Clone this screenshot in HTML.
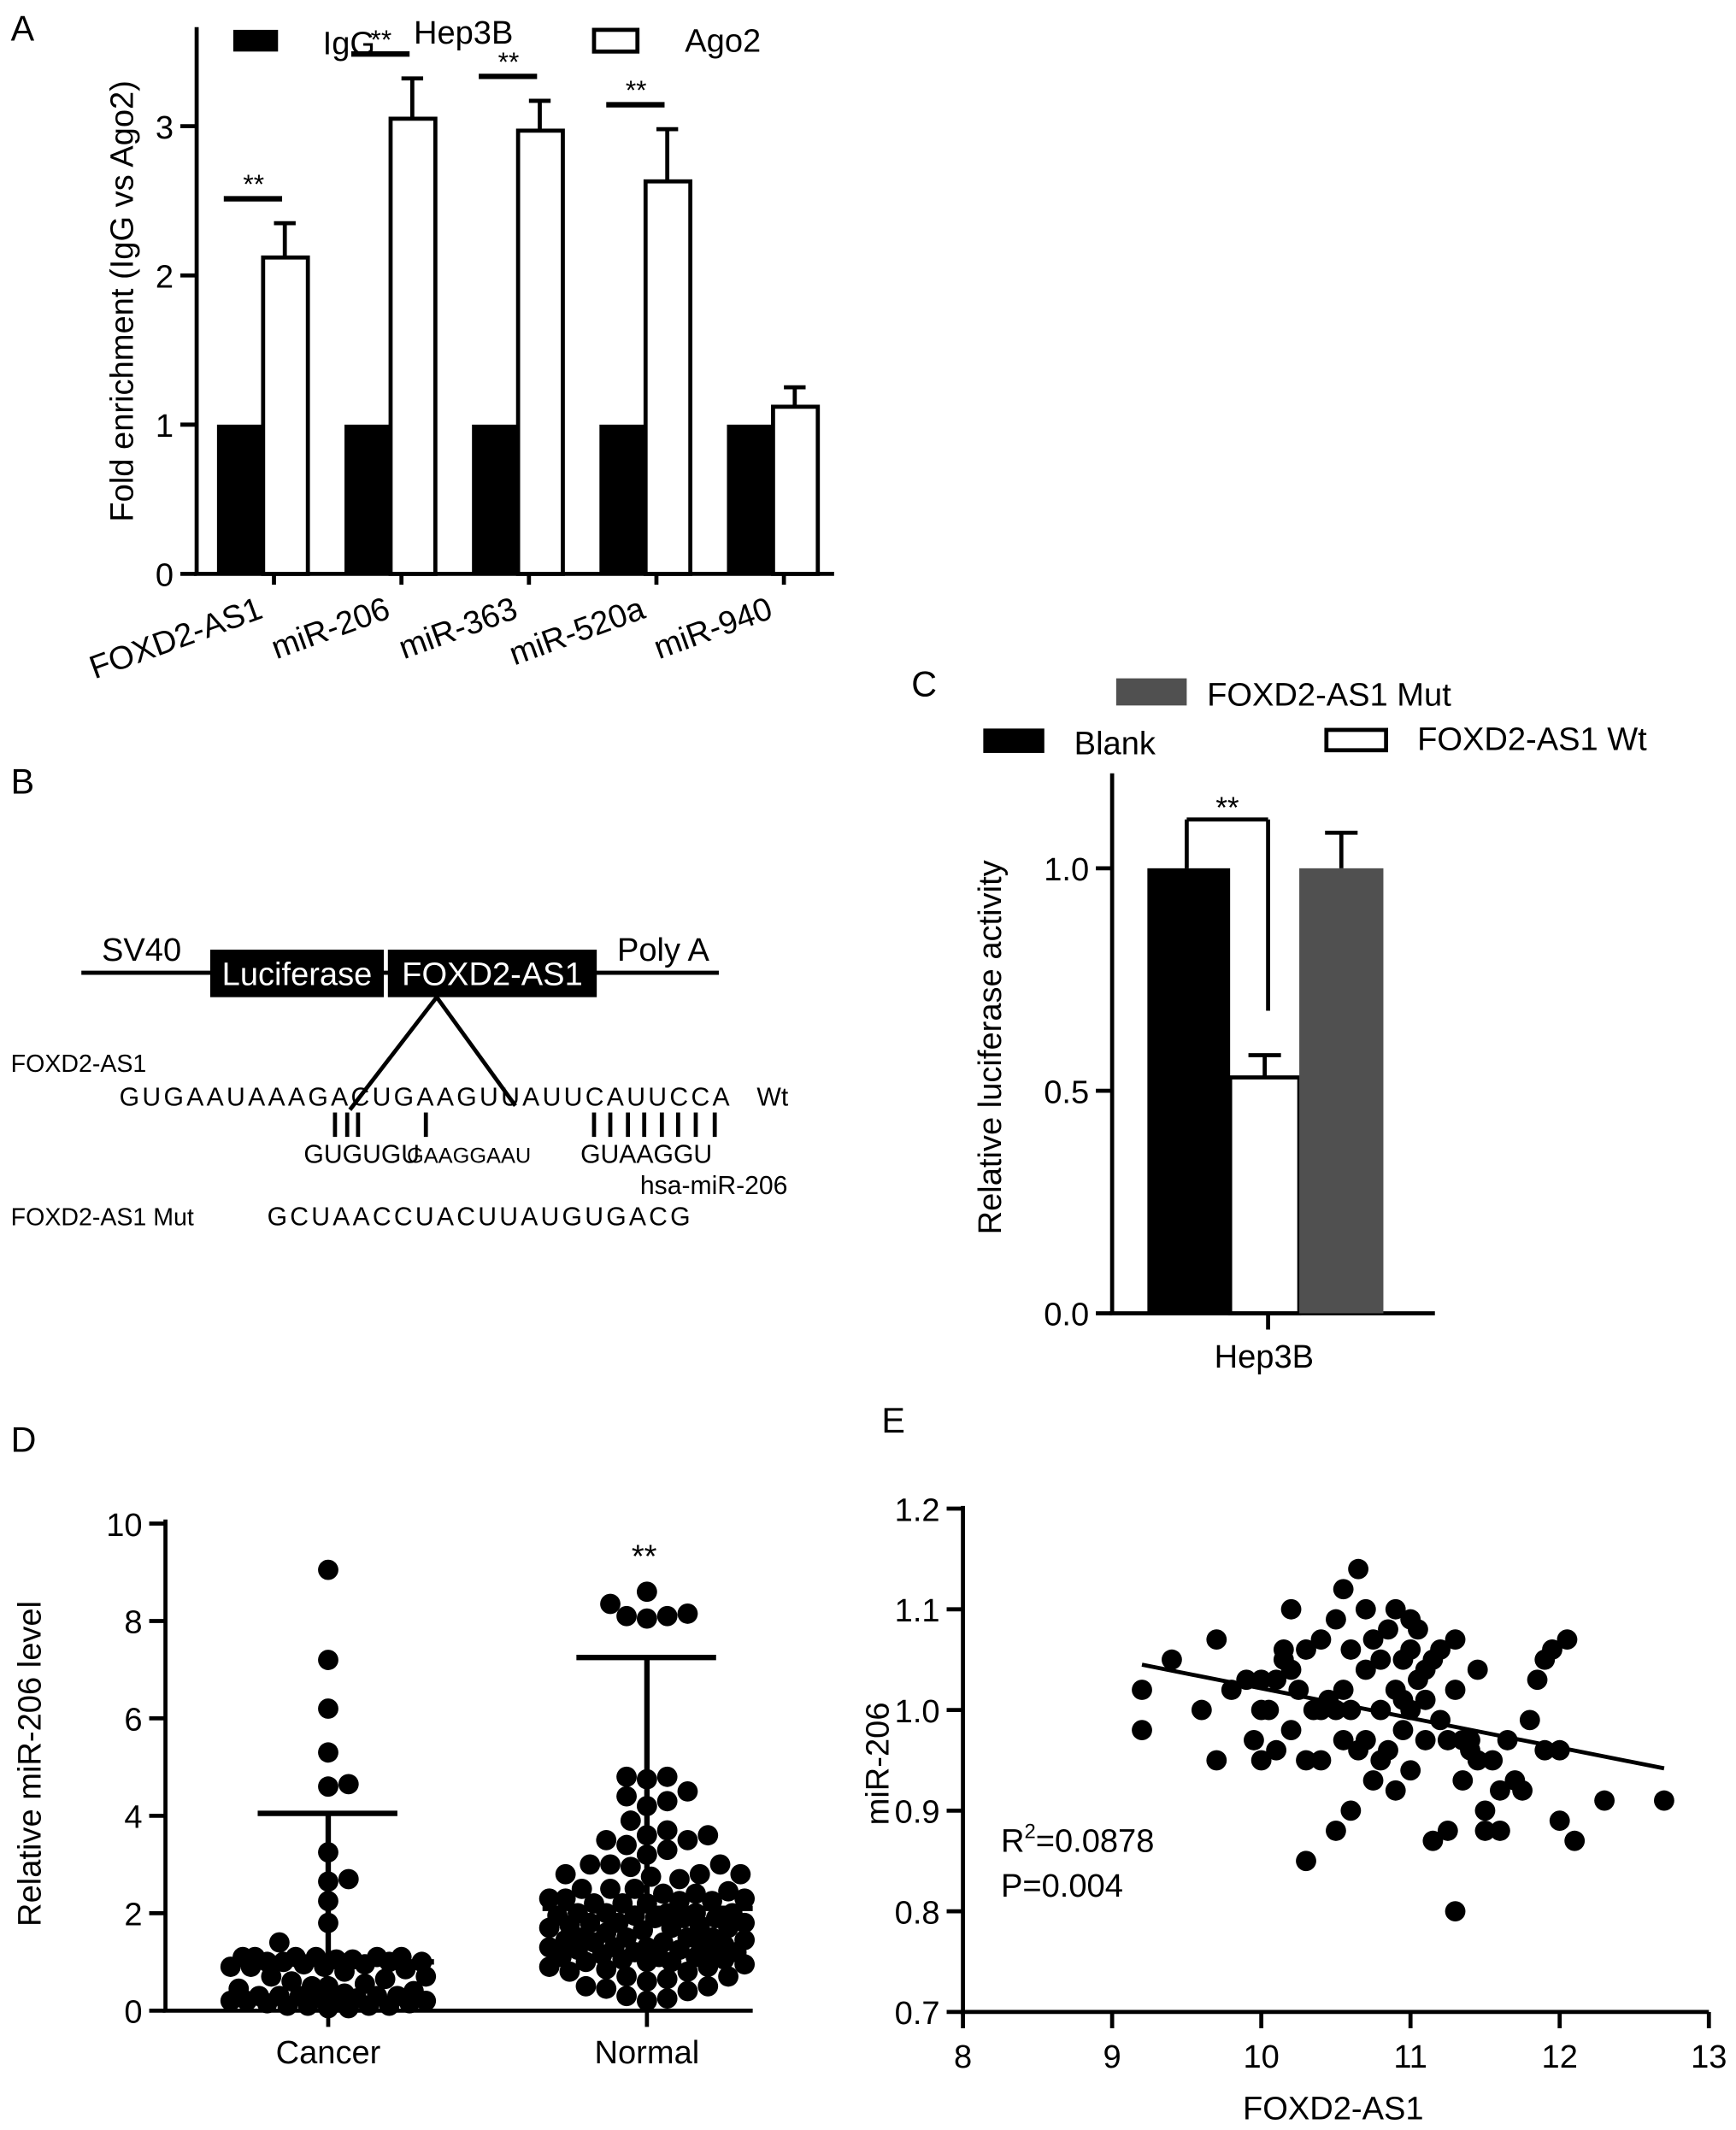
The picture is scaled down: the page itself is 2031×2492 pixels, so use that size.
<!DOCTYPE html>
<html><head><meta charset="utf-8"><style>
html,body{margin:0;padding:0;background:#fff}
svg{display:block;font-family:"Liberation Sans",Arial,sans-serif}
</style></head><body>
<svg id="fig" width="2031" height="2492" viewBox="0 0 1280 1570" preserveAspectRatio="none" xmlns="http://www.w3.org/2000/svg">
<rect width="1280" height="1570" fill="#fff"/>
<g id="A"></g>
<g id="B"></g>
<g id="C"></g>
<g id="D"></g>
<g id="E"></g>
</svg>
<script>
// ---- Panel A data
const aCategories = ["FOXD2-AS1","miR-206","miR-363","miR-520a","miR-940"];
const aIgG = [1,1,1,1,1];
const aAgo2 = [2.12,3.05,2.97,2.63,1.12];
const aAgo2Err = [0.23,0.27,0.2,0.35,0.13];
const aSig = ["**","**","**","**",""];
const aTicks = [0,1,2,3];
// ---- Panel C data
const cSeries = ["Blank","FOXD2-AS1 Wt","FOXD2-AS1 Mut"];
const cValues = [1.0,0.53,1.0];
const cErr = [0,0.05,0.08];
const cTicks = [0.0,0.5,1.0];
// ---- Panel D data
const dCategories = ["Cancer","Normal"];
const dCancer = [9.05,7.2,6.2,5.3,4.65,4.6,3.25,2.7,2.65,2.25,1.8,1.4,1.1,1.1,1.1,1.1,1.1,1.1,1.05,1.05,1.0,1.0,1.0,1.0,0.95,0.95,0.9,0.9,0.9,0.85,0.8,0.7,0.7,0.65,0.6,0.55,0.5,0.5,0.45,0.4,0.35,0.3,0.3,0.3,0.3,0.3,0.25,0.25,0.2,0.2,0.2,0.2,0.15,0.15,0.1,0.1,0.1,0.1,0.05,0.05];
const dNormal = [8.6,8.35,8.1,8.05,8.1,8.15,4.8,4.8,4.75,4.5,4.4,4.3,4.2,3.9,3.7,3.6,3.6,3.5,3.5,3.4,3.3,3.2,3.0,3.0,3.0,2.95,2.8,2.8,2.8,2.75,2.7,2.5,2.5,2.5,2.45,2.4,2.4,2.3,2.3,2.3,2.25,2.25,2.2,2.2,2.2,2.0,2.0,2.0,2.0,2.0,1.95,1.95,1.9,1.9,1.9,1.8,1.8,1.8,1.75,1.75,1.7,1.7,1.7,1.65,1.6,1.5,1.5,1.5,1.5,1.45,1.45,1.4,1.4,1.4,1.35,1.3,1.3,1.3,1.25,1.25,1.2,1.2,1.2,1.15,1.1,1.1,1.1,1.05,1.05,1.0,1.0,1.0,0.95,0.9,0.9,0.85,0.8,0.8,0.7,0.7,0.65,0.6,0.5,0.5,0.45,0.4,0.3,0.25,0.2];
const dMean = [1.0,2.1];
const dSD = [4.05,7.25];
const dTicks = [0,2,4,6,8,10];
// ---- Panel E data
const eX = [9.2,9.2,9.4,9.6,9.7,9.7,9.8,9.9,9.95,10.0,10.0,10.05,10.1,10.1,10.15,10.2,10.2,10.2,10.25,10.3,10.3,10.3,10.35,10.4,10.4,10.45,10.5,10.5,10.55,10.55,10.6,10.6,10.6,10.65,10.65,10.7,10.7,10.7,10.75,10.75,10.8,10.8,10.85,10.85,10.9,10.9,10.95,10.95,11.0,11.0,11.0,11.05,11.05,11.1,11.1,11.15,11.15,11.2,11.25,11.25,11.3,11.3,11.3,11.35,11.4,11.45,11.45,11.5,11.5,11.55,11.6,11.65,11.7,11.75,11.8,11.85,11.9,11.9,11.95,12.0,12.0,12.05,12.1,12.3,12.7,10.0,10.4,10.5,10.8,11.0,11.2,10.9,11.4,11.6,10.15,10.55,10.95,11.1,11.35];
const eY = [1.02,0.98,1.05,1.0,1.07,0.95,1.02,1.03,0.97,0.95,1.03,1.0,0.96,1.03,1.05,1.04,0.98,1.1,1.02,0.95,1.06,0.85,1.0,1.07,0.95,1.01,1.09,0.88,1.12,0.97,1.06,1.0,0.9,1.14,0.96,1.1,1.04,0.97,1.07,0.93,1.05,1.0,1.08,0.96,1.02,1.1,0.98,1.05,1.09,1.0,0.94,1.08,1.03,0.97,1.01,0.87,1.05,0.99,0.97,0.88,1.07,0.8,1.02,0.93,0.97,1.04,0.95,0.9,0.88,0.95,0.92,0.97,0.93,0.92,0.99,1.03,0.96,1.05,1.06,0.96,0.89,1.07,0.87,0.91,0.91,1.0,1.0,1.0,0.95,1.06,1.06,0.92,0.96,0.88,1.06,1.02,1.01,1.04,0.97];
const eFitX = [9.2,12.7];
const eFitY = [1.045,0.942];
const eXTicks = [8,9,10,11,12,13];
const eYTicks = [0.7,0.8,0.9,1.0,1.1,1.2];

const NS="http://www.w3.org/2000/svg";
function mk(parent,tag,attrs,name,text){const e=document.createElementNS(NS,tag);for(const k in attrs)e.setAttribute(k,attrs[k]);


if(text!==undefined)e.textContent=text;document.getElementById(parent).appendChild(e);return e;}
function ln(p,x1,y1,x2,y2,n,w){return mk(p,'line',{x1,y1,x2,y2,stroke:'#000','stroke-width':w||3},n);}
function tx(p,x,y,s,n,size,anchor,extra){const a=Object.assign({x,y,'font-size':size||24,'text-anchor':anchor||'start',fill:'#000'},extra||{});return mk(p,'text',a,n,s);}

// ===== Panel A
(function(){
const yA=v=>423-v*110;
tx('A',8,30,'A','panel-a-label',26);
ln('A',145,20,145,424,'y-axis');ln('A',143,423,615,423,'x-axis');
aTicks.forEach(t=>{ln('A',133,yA(t),145,yA(t),'y-tick');tx('A',128,yA(t)+9,String(t),'y-tick-label',24,'end');});
const t=tx('A',0,0,'Fold enrichment (IgG vs Ago2)','y-axis-title',24,'middle');t.setAttribute('transform','translate(98,222) rotate(-90)');
aCategories.forEach((c,i)=>{const bx=160+i*94;
mk('A','rect',{x:bx,y:yA(aIgG[i]),width:34,height:yA(0)-yA(aIgG[i]),fill:'#000'},'bar-igg-'+i);
mk('A','rect',{x:bx+34,y:yA(aAgo2[i]),width:33,height:yA(0)-yA(aAgo2[i]),fill:'#fff',stroke:'#000','stroke-width':3},'bar-ago2-'+i);
const cx=bx+50;ln('A',cx,yA(aAgo2[i]),cx,yA(aAgo2[i]+aAgo2Err[i]),'error-bar');ln('A',cx-8,yA(aAgo2[i]+aAgo2Err[i]),cx+8,yA(aAgo2[i]+aAgo2Err[i]),'error-cap');
ln('A',cx-8,423,cx-8,431,'x-tick');
if(aSig[i]){const sy=yA(aAgo2[i]+aAgo2Err[i])-18;ln('A',bx+5,sy,bx+48,sy,'sig-line',4);tx('A',bx+27,sy-4,aSig[i],'sig-stars',20,'middle');}
const l=tx('A',0,0,c,'x-tick-label',24,'end');l.setAttribute('transform','translate('+(bx+35)+',455) rotate(-20)');});
mk('A','rect',{x:172,y:22,width:33,height:16,fill:'#000'},'legend-swatch-igg');tx('A',238,40,'IgG','legend-igg');
tx('A',305,32,'Hep3B','chart-title');
mk('A','rect',{x:438,y:22,width:32,height:16,fill:'#fff',stroke:'#000','stroke-width':3},'legend-swatch-ago2');tx('A',505,38,'Ago2','legend-ago2');
})();

// ===== Panel B
(function(){
tx('B',8,585,'B','panel-b-label',26);
ln('B',60,717,530,717,'vector-line',3);
mk('B','rect',{x:155,y:700,width:128,height:35,fill:'#000'},'luciferase-box');
mk('B','rect',{x:286,y:700,width:154,height:35,fill:'#000'},'foxd2-box');
tx('B',219,726,'Luciferase','luciferase-label',24,'middle',{fill:'#fff'});
tx('B',363,726,'FOXD2-AS1','foxd2-label',24,'middle',{fill:'#fff'});
tx('B',75,708,'SV40','sv40-label',24);tx('B',455,708,'Poly A','polya-label',24);
ln('B',322,735,258,818,'insert-line-left',3);ln('B',322,735,380,815,'insert-line-right',3);
tx('B',8,790,'FOXD2-AS1','foxd2-seq-label',18);
tx('B',88,815,'GUGAAUAAAGACUGAAGUUAUUCAUUCCA','wt-sequence',19,'start',{textLength:450});
tx('B',558,815,'Wt','wt-label',19);
[247,256,264,314,438,450,463,475,488,500,513,527].forEach((x,i)=>ln('B',x,820,x,838,'base-pair',3));
tx('B',224,857,'GUGUGU','mir-seq-1',19);tx('B',300,857,'GAAGGAAU','mir-seq-2',16);tx('B',428,857,'GUAAGGU','mir-seq-3',19);
tx('B',472,880,'hsa-miR-206','mir-label',19);
tx('B',8,903,'FOXD2-AS1 Mut','mut-label',18);
tx('B',197,903,'GCUAACCUACUUAUGUGACG','mut-sequence',19,'start',{textLength:312});
})();

// ===== Panel C
(function(){
const yC=v=>968-v*328;
tx('C',672,513,'C','panel-c-label',26);
ln('C',820,570,820,969,'y-axis');ln('C',818,968,1058,968,'x-axis');
cTicks.forEach(t=>{ln('C',808,yC(t),820,yC(t),'y-tick');tx('C',803,yC(t)+9,t.toFixed(1),'y-tick-label',24,'end');});
const t=tx('C',0,0,'Relative luciferase activity','y-axis-title',24,'middle');t.setAttribute('transform','translate(738,772) rotate(-90)');
const fills=['#000','#fff','#505050'];const xs=[846,907,958];const ws=[61,51,62];
cValues.forEach((v,i)=>{mk('C','rect',{x:xs[i],y:yC(v),width:ws[i],height:yC(0)-yC(v),fill:fills[i],stroke:i==1?'#000':'none','stroke-width':3},'bar-'+cSeries[i].toLowerCase().replace(/ /g,'-'));
if(cErr[i]>0){const cx=xs[i]+ws[i]/2;ln('C',cx,yC(v),cx,yC(v+cErr[i]),'error-bar');ln('C',cx-12,yC(v+cErr[i]),cx+12,yC(v+cErr[i]),'error-cap');}});
ln('C',935,968,935,980,'x-tick');
ln('C',875,yC(cValues[0]),875,604,'bracket-left');ln('C',875,604,935,604,'bracket-top');ln('C',935,604,935,745,'bracket-right');
tx('C',905,603,'**','sig-stars',22,'middle');
tx('C',932,1008,'Hep3B','x-tick-label',24,'middle');
mk('C','rect',{x:823,y:500,width:52,height:20,fill:'#505050'},'legend-swatch-mut');tx('C',890,520,'FOXD2-AS1 Mut','legend-mut');
mk('C','rect',{x:725,y:537,width:45,height:18,fill:'#000'},'legend-swatch-blank');tx('C',792,556,'Blank','legend-blank');
mk('C','rect',{x:978,y:538,width:44,height:15,fill:'#fff',stroke:'#000','stroke-width':3},'legend-swatch-wt');tx('C',1045,553,'FOXD2-AS1 Wt','legend-wt');
})();

// ===== Panel D
(function(){
const yD=v=>1482-v*35.9;const centers=[242,477];const r=7.5;const maxOff=72;
tx('D',8,1070,'D','panel-d-label',26);
ln('D',122,1120,122,1483,'y-axis');ln('D',120,1482,555,1482,'x-axis');
dTicks.forEach(t=>{ln('D',110,yD(t),122,yD(t),'y-tick');tx('D',105,yD(t)+9,String(t),'y-tick-label',24,'end');});
const t=tx('D',0,0,'Relative miR-206 level','y-axis-title',24,'middle');t.setAttribute('transform','translate(30,1300) rotate(-90)');
[dCancer,dNormal].forEach((vals,g)=>{const cx=centers[g];const placed=[];
vals.slice().sort((a,b)=>a-b).forEach(v=>{const y=yD(v);let best=cx,bestD=-1,found=false;
for(let k=0;k<=2*maxOff/3;k++){const off=(k%2?1:-1)*Math.ceil(k/2)*3;const x=cx+off;
let md=1e9;placed.forEach(p=>{md=Math.min(md,Math.hypot(p[0]-x,p[1]-y));});
if(md>=2*r*0.95){best=x;found=true;break;}
if(md>bestD){bestD=md;best=x;}}
placed.push([best,y]);mk('D','circle',{cx:best,cy:y,r:r,fill:'#000'},'point-'+dCategories[g].toLowerCase());});
const m=yD(dMean[g]),s=yD(dSD[g]);
ln('D',cx-77,m,cx+78,m,'mean-line',4);ln('D',cx,m,cx,s,'sd-line',4);ln('D',cx-52,s,cx+51,s,'sd-cap',4);
ln('D',cx,1482,cx,1494,'x-tick');tx('D',cx,1521,dCategories[g],'x-tick-label',24,'middle');});
tx('D',475,1155,'**','sig-stars',24,'middle');
})();

// ===== Panel E
(function(){
const xE=v=>710+(v-8)*110;const yE=v=>1483-(v-0.7)*742;
tx('E',650,1056,'E','panel-e-label',26);
ln('E',710,1110,710,1484,'y-axis');ln('E',708,1483,1260,1483,'x-axis');
eYTicks.forEach(t=>{ln('E',698,yE(t),710,yE(t),'y-tick');tx('E',693,yE(t)+9,t.toFixed(1),'y-tick-label',24,'end');});
eXTicks.forEach(t=>{ln('E',xE(t),1483,xE(t),1495,'x-tick');tx('E',xE(t),1524,String(t),'x-tick-label',24,'middle');});
const t=tx('E',0,0,'miR-206','y-axis-title',24,'middle');t.setAttribute('transform','translate(655,1300) rotate(-90)');
tx('E',983,1562,'FOXD2-AS1','x-axis-title',24,'middle');
eX.forEach((x,i)=>mk('E','circle',{cx:xE(x),cy:yE(eY[i]),r:7.5,fill:'#000'},'scatter-point'));
ln('E',xE(eFitX[0]),yE(eFitY[0]),xE(eFitX[1]),yE(eFitY[1]),'regression-line',3);
const r2=tx('E',738,1365,'R','r-squared',24);const sup=document.createElementNS(NS,'tspan');sup.setAttribute('dy','-10');sup.setAttribute('font-size','15');sup.textContent='2';r2.appendChild(sup);
const rest=document.createElementNS(NS,'tspan');rest.setAttribute('dy','10');rest.textContent='=0.0878';r2.appendChild(rest);
tx('E',738,1398,'P=0.004','p-value',24);
})();
</script>
</body></html>
